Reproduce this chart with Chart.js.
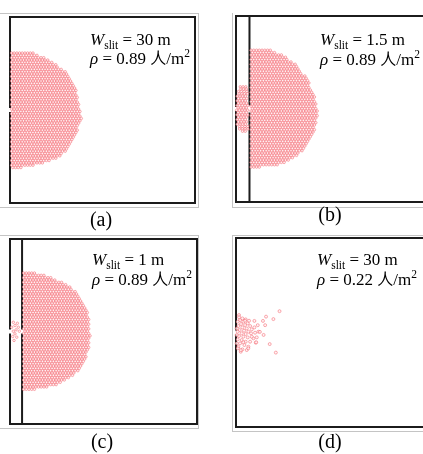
<!DOCTYPE html>
<html><head><meta charset="utf-8">
<script src="https://cdn.jsdelivr.net/npm/chart.js@4.4.0/dist/chart.umd.min.js"></script>
<style>
html,body{margin:0;padding:0;background:#fff;}
#fig{position:relative;width:423px;height:454px;overflow:hidden;background:#fff;}
canvas{position:absolute;}
</style></head><body>
<div id="fig">
<canvas id="pa" width="211" height="232" style="left:0;top:0"></canvas>
<canvas id="pb" width="216" height="232" style="left:211px;top:0"></canvas>
<canvas id="pc" width="211" height="222" style="left:0;top:232px"></canvas>
<canvas id="pd" width="216" height="222" style="left:211px;top:232px"></canvas>
</div>
<script>
// ---- room geometry (metres) ----
const ROOM_W = 31, ROOM_H = 31;
const DOOR_Y = 15.5, DOOR_W = 1.0;
const PANEL_LABELS = ['(a)', '(b)', '(c)', '(d)'];
const SLIT_W = [30, 1.5, 1, 30];          // W_slit (m)
const DENSITY = [0.89, 0.89, 0.89, 0.22]; // rho (persons/m^2)
const INNER_WALL_X = [null, 2.2, 2.0, null];

// ---- crowd outlines (y from top to bottom, right edge x) ----
const CROWD_A_Y    = [25.0, 24.7, 23.3, 21.7, 20.0, 17.2, 14.2, 11.0, 9.3, 7.7, 6.7, 5.8];
const CROWD_A_XMAX = [4.2, 4.7, 7.5, 9.5, 10.8, 11.5, 12.0, 11.0, 10.0, 8.3, 5.8, 1.7];
const CROWD_A_XMIN = [0.25, 0.25, 0.25, 0.25, 0.25, 0.25, 0.25, 0.25, 0.25, 0.25, 0.25, 0.25];

const CROWD_B_Y    = [25.3, 24.5, 22.5, 19.8, 17.0, 15.3, 14.2, 11.5, 8.7, 7.0, 6.2, 5.8];
const CROWD_B_XMAX = [5.7, 7.8, 10.3, 12.0, 13.0, 13.3, 13.3, 12.7, 11.2, 9.0, 6.8, 4.0];
const CROWD_B_XMIN = [2.45, 2.45, 2.45, 2.45, 2.45, 2.45, 2.45, 2.45, 2.45, 2.45, 2.45, 2.45];
// group between the two walls in (b)
const GROUP_B_Y    = [19.2, 17.8, 15.3, 12.8, 11.7];
const GROUP_B_XMIN = [0.7, 0.2, 0.1, 0.2, 0.9];
const GROUP_B_XMAX = [1.95, 1.95, 1.95, 1.95, 1.95];

const CROWD_C_Y    = [25.3, 24.8, 23.4, 22.1, 21.0, 18.7, 16.5, 14.8, 12.6, 10.9, 9.3, 7.6, 6.5, 5.7];
const CROWD_C_XMAX = [4.2, 6.2, 9.4, 11.1, 11.9, 12.9, 13.2, 13.3, 13.1, 12.5, 11.7, 9.7, 7.5, 3.9];
const CROWD_C_XMIN = [2.25, 2.25, 2.25, 2.25, 2.25, 2.25, 2.25, 2.25, 2.25, 2.25, 2.25, 2.25, 2.25, 2.25];
// individual pedestrians between the walls in (c)
const GROUP_C_X = [0.55, 1.22, 0.83, 0.28, 1.38, 1.0, 0.55, 1.55, 0.83, 0.45, 1.12, 0.67];
const GROUP_C_Y = [17.05, 16.88, 16.5, 16.22, 16.22, 15.78, 15.55, 15.55, 15.11, 14.67, 14.55, 14.0];

// individual pedestrians in (d)
const PEDS_D_X = [0.49, 1.04, 1.58, 0.66, 0.27, 1.2, 1.91, 0.82, 1.48, 2.3, 0.38, 1.04, 1.75, 2.57, 0.6, 1.31, 2.02, 0.27,
  0.93, 1.58, 2.46, 3.11, 0.49, 1.2, 1.91, 2.84, 0.27, 0.93, 1.58, 2.3, 0.66, 1.37, 2.02, 0.38, 1.04, 3.22, 3.66, 3.0,
  0.11, 0.77, 1.75, 2.13, 2.57, 3.39, 0.11, 0.11, 1.48, 0.5, 1.2, 0.3,
  7.1, 4.9, 6.1, 4.4, 4.75, 3.55, 3.0, 3.9, 4.5, 5.5, 6.5, 3.3, 2.0, 0.8];
const PEDS_D_Y = [18.36, 17.81, 17.65, 17.54, 17.27, 17.27, 17.0, 16.89, 16.72, 16.56, 16.56, 16.34, 16.17, 16.01, 15.9, 15.79, 15.63, 15.63,
  15.36, 15.25, 15.36, 15.46, 14.92, 14.81, 14.7, 14.54, 14.37, 14.26, 13.99, 13.99, 13.72, 13.44, 13.17, 13.17, 12.73, 13.83, 15.63, 16.34,
  15.08, 12.35, 12.62, 17.43, 14.81, 14.7, 16.17, 13.72, 17.43, 18.0, 13.9, 12.9,
  19.0, 18.1, 17.7, 17.4, 16.7, 16.7, 17.4, 15.6, 15.1, 13.6, 12.2, 13.9, 12.9, 12.6];

// ---- helpers ----
function interp(y, ys, vs) {
  if (y >= ys[0]) return vs[0];
  for (let i = 0; i < ys.length - 1; i++) {
    if (y <= ys[i] && y >= ys[i + 1]) {
      const t = (ys[i] - y) / (ys[i] - ys[i + 1]);
      return vs[i] + t * (vs[i + 1] - vs[i]);
    }
  }
  return vs[vs.length - 1];
}
// packed crowd inside an outline (hexagonal packing of pedestrian discs)
function packCrowd(ys, xmins, xmaxs, s) {
  const pts = [];
  const dy = s * 0.866;
  let k = 0;
  for (let y = ys[0]; y >= ys[ys.length - 1] - 1e-6; y -= dy, k++) {
    const x0 = interp(y, ys, xmins), x1 = interp(y, ys, xmaxs);
    for (let x = x0 + (k % 2) * s / 2; x <= x1 + 1e-6; x += s) pts.push({x: x, y: y});
  }
  return pts;
}
function zipPts(xs, ys) { return xs.map((x, i) => ({x: x, y: ys[i]})); }

const SERIF = '"Liberation Serif", "Times New Roman", serif';
const CJK = '"Noto Sans CJK SC", sans-serif';

function drawRuns(ctx, x, y, runs) {
  for (const r of runs) {
    ctx.font = r.f;
    ctx.fillText(r.t, x, y + (r.dy || 0));
    x += ctx.measureText(r.t).width;
  }
}

// layout (canvas px)
const LAYOUT = [
  {pad: {left: 10, top: 17, right: 16, bottom: 29}, txt: [90, 45, 64], lab: [101, 226],
   gray: [[0, 13.5, 199, 13.5], [198.5, 13, 198.5, 208], [0, 207.5, 199, 207.5]]},
  {pad: {left: 25, top: 16, right: 1, bottom: 30}, txt: [109, 45, 65], lab: [119, 221],
   gray: [[21.5, 13, 21.5, 208], [21, 207.5, 216, 207.5]]},
  {pad: {left: 10, top: 7, right: 14, bottom: 30}, txt: [92, 33, 53], lab: [102, 216],
   gray: [[0, 3.5, 199, 3.5], [198.5, 3, 198.5, 197], [0, 196.5, 199, 196.5]]},
  {pad: {left: 25, top: 6, right: 1, bottom: 27}, txt: [106, 33, 53], lab: [119, 216],
   gray: [[21.5, 3, 21.5, 200], [21, 3.5, 216, 3.5], [21, 199.5, 216, 199.5]]}
];

const CROWDS = [
  [packCrowd(CROWD_A_Y, CROWD_A_XMIN, CROWD_A_XMAX, 0.45)],
  [packCrowd(CROWD_B_Y, CROWD_B_XMIN, CROWD_B_XMAX, 0.45), packCrowd(GROUP_B_Y, GROUP_B_XMIN, GROUP_B_XMAX, 0.45)],
  [packCrowd(CROWD_C_Y, CROWD_C_XMIN, CROWD_C_XMAX, 0.45), zipPts(GROUP_C_X, GROUP_C_Y)],
  [zipPts(PEDS_D_X, PEDS_D_Y)]
];

const decor = {
  id: 'decor',
  beforeDatasetsDraw(chart, args, o) {
    const ctx = chart.ctx, L = LAYOUT[o.i];
    ctx.save();
    ctx.strokeStyle = '#c4c4c4'; ctx.lineWidth = 1;
    for (const g of L.gray) { ctx.beginPath(); ctx.moveTo(g[0], g[1]); ctx.lineTo(g[2], g[3]); ctx.stroke(); }
    ctx.restore();
  },
  afterDraw(chart, args, o) {
    const ctx = chart.ctx, L = LAYOUT[o.i];
    ctx.save();
    ctx.fillStyle = '#000'; ctx.textBaseline = 'alphabetic'; ctx.textAlign = 'left';
    const f16 = '17px ' + SERIF, f11 = '11.5px ' + SERIF, i16 = 'italic 17px ' + SERIF;
    drawRuns(ctx, L.txt[0], L.txt[1], [
      {t: 'W', f: i16}, {t: 'slit', f: f11, dy: 4}, {t: ' = ' + SLIT_W[o.i] + ' m', f: f16}]);
    drawRuns(ctx, L.txt[0], L.txt[2], [
      {t: 'ρ', f: i16}, {t: ' = ' + DENSITY[o.i].toFixed(2) + ' ', f: f16}, {t: '人', f: '16px ' + CJK},
      {t: '/m', f: f16}, {t: '2', f: f11, dy: -7}]);
    ctx.font = '20px ' + SERIF; ctx.textAlign = 'center';
    ctx.fillText(PANEL_LABELS[o.i], L.lab[0], L.lab[1]);
    ctx.restore();
  }
};

['pa', 'pb', 'pc', 'pd'].forEach((id, i) => {
  const datasets = [];
  const r = i === 3 ? 1.5 : 1.25;
  CROWDS[i].forEach(pts => datasets.push({
    data: pts, pointRadius: r, pointBorderWidth: 0.7,
    pointBorderColor: 'rgba(240,70,80,0.62)', pointBackgroundColor: 'rgba(255,240,241,0.8)', clip: false
  }));
  const wall = {showLine: true, borderColor: '#1c1c1c', borderWidth: 2, pointRadius: 0, clip: false,
    borderJoinStyle: 'miter', borderCapStyle: 'square'};
  datasets.push(Object.assign({data: [
    {x: 0, y: DOOR_Y + DOOR_W / 2}, {x: 0, y: ROOM_H}, {x: ROOM_W, y: ROOM_H},
    {x: ROOM_W, y: 0}, {x: 0, y: 0}, {x: 0, y: DOOR_Y - DOOR_W / 2}]}, wall));
  if (INNER_WALL_X[i] !== null) {
    const ix = INNER_WALL_X[i], h = SLIT_W[i] / 2;
    datasets.push(Object.assign({data: [{x: ix, y: ROOM_H}, {x: ix, y: DOOR_Y + h}]}, wall));
    datasets.push(Object.assign({data: [{x: ix, y: DOOR_Y - h}, {x: ix, y: 0}]}, wall));
  }
  new Chart(document.getElementById(id), {
    type: 'scatter',
    data: {datasets: datasets},
    options: {
      responsive: false, animation: false, events: [],
      layout: {padding: LAYOUT[i].pad, autoPadding: false},
      plugins: {legend: {display: false}, tooltip: {enabled: false}, decor: {i: i}},
      scales: {
        x: {type: 'linear', min: 0, max: ROOM_W, display: false},
        y: {type: 'linear', min: 0, max: ROOM_H, display: false}
      }
    },
    plugins: [decor]
  });
});
</script>
</body></html>
